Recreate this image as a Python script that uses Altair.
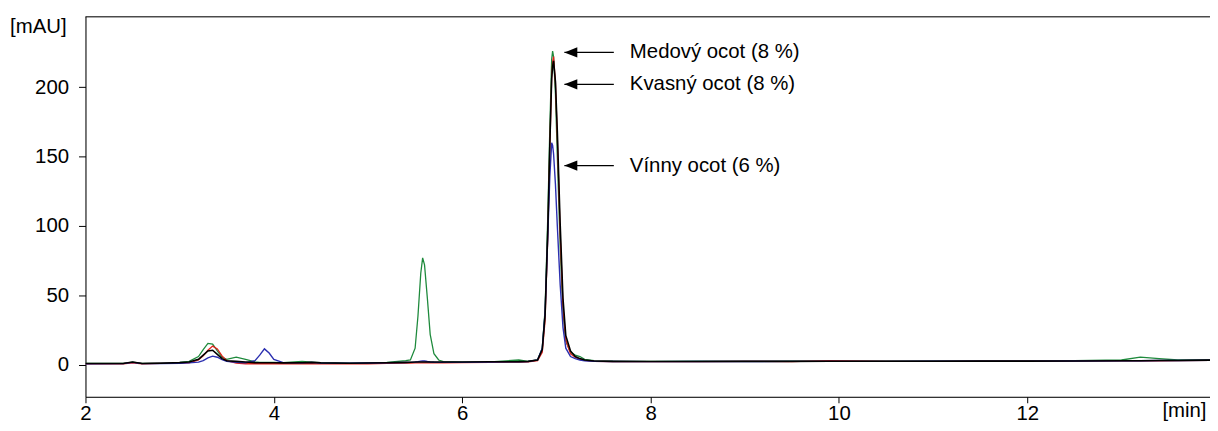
import altair as alt
import pandas as pd

# retention time grid [min]
time = [2.0, 2.4, 2.5, 2.6, 2.8, 3.0, 3.1, 3.2, 3.25, 3.3, 3.35, 3.4, 3.45, 3.5,
        3.6, 3.7, 3.8, 3.85, 3.9, 3.95, 4.0, 4.1, 4.3, 4.4, 4.5, 4.8, 5.0, 5.2,
        5.4, 5.45, 5.5, 5.53, 5.56, 5.58, 5.6, 5.63, 5.66, 5.7, 5.75, 5.8,
        6.0, 6.3, 6.6, 6.7, 6.8, 6.85, 6.88, 6.91, 6.93, 6.95, 6.96, 6.97, 6.99,
        7.01, 7.04, 7.07, 7.1, 7.15, 7.2, 7.25, 7.3, 7.4, 7.6, 8.0, 8.5, 9.0,
        9.5, 9.9, 10.5, 11.0, 11.5, 12.0, 12.5, 13.0, 13.2, 13.4, 13.6, 13.94]

medovy = [1.0, 1.0, 2.0, 1.0, 1.3, 1.8, 2.5, 6.0, 11.0, 15.5, 15.0, 10.0, 5.5, 4.0,
          5.5, 4.0, 2.2, 1.8, 1.8, 1.8, 1.8, 1.6, 2.5, 2.0, 1.6, 1.3, 1.4, 1.7,
          3.0, 3.5, 12.0, 35.0, 66.0, 77.0, 72.0, 48.0, 22.0, 8.0, 3.5, 2.4,
          2.0, 2.2, 3.5, 2.5, 3.5, 12.0, 40.0, 110.0, 170.0, 220.0, 226.0, 222.0, 195.0,
          150.0, 85.0, 38.0, 17.0, 9.0, 7.0, 6.0, 4.0, 3.0, 2.6, 2.5, 2.6, 2.5,
          2.6, 2.7, 2.7, 2.8, 2.8, 2.9, 3.0, 3.5, 5.5, 4.5, 3.5, 3.8]

kvasny = [0.8, 0.8, 1.5, 0.8, 1.0, 1.2, 1.5, 3.5, 6.5, 10.5, 13.5, 11.5, 6.5, 3.0,
          1.2, 0.8, 0.8, 0.8, 0.8, 0.8, 0.8, 0.8, 0.8, 0.8, 0.7, 0.7, 0.8, 1.0,
          1.3, 1.3, 1.4, 1.4, 1.4, 1.4, 1.4, 1.4, 1.4, 1.4, 1.5, 1.5,
          1.6, 1.8, 2.0, 2.2, 3.0, 9.0, 32.0, 95.0, 155.0, 207.0, 218.0, 222.0, 203.0,
          163.0, 95.0, 42.0, 18.0, 8.0, 5.5, 4.0, 3.2, 2.6, 2.4, 2.3, 2.3, 2.5,
          2.4, 3.0, 2.5, 2.5, 2.6, 2.6, 2.7, 2.8, 2.9, 2.9, 3.0, 3.2]

vinny = [0.8, 0.9, 1.8, 0.9, 1.0, 1.2, 1.4, 2.0, 3.0, 5.0, 6.3, 5.5, 3.8, 2.5,
         1.8, 1.5, 3.0, 7.0, 11.5, 8.5, 4.0, 1.6, 1.4, 1.8, 1.3, 1.2, 1.3, 1.5,
         1.7, 1.8, 2.0, 2.3, 2.7, 2.9, 2.8, 2.4, 2.1, 1.9, 1.8, 1.8,
         1.8, 2.0, 2.2, 2.4, 3.5, 12.0, 38.0, 95.0, 135.0, 160.0, 158.0, 152.0, 130.0,
         100.0, 58.0, 27.0, 12.0, 6.0, 4.5, 3.5, 3.0, 2.6, 2.4, 2.3, 2.4, 2.4,
         2.5, 2.5, 2.5, 2.6, 2.6, 2.7, 2.8, 2.9, 3.0, 3.1, 3.1, 3.3]

cerny = [1.0, 1.0, 2.0, 1.0, 1.2, 1.6, 2.0, 4.0, 7.0, 10.0, 10.5, 7.5, 4.5, 3.0,
         2.5, 2.0, 1.6, 1.5, 1.5, 1.5, 1.5, 1.4, 1.5, 1.8, 1.4, 1.2, 1.3, 1.5,
         1.8, 1.9, 2.0, 2.0, 2.1, 2.1, 2.1, 2.0, 2.0, 2.0, 2.0, 2.0,
         2.0, 2.2, 2.3, 2.5, 3.5, 11.0, 36.0, 100.0, 158.0, 206.0, 215.0, 219.0, 204.0,
         168.0, 102.0, 48.0, 21.0, 10.0, 6.0, 4.5, 3.5, 2.8, 2.5, 2.4, 2.4, 2.5,
         2.5, 2.6, 2.6, 2.6, 2.7, 2.7, 2.8, 2.9, 3.0, 3.1, 3.1, 3.4]

series_names = ["Medový", "Kvasný", "Vínny", "Čierny"]
series_values = [medovy, kvasny, vinny, cerny]
series_colors = ["#1e8a3c", "#e0231c", "#2b2fb0", "#000000"]
series_widths = [1.3, 1.3, 1.4, 1.6]

# annotations (data coordinates)
ann_text = ["Medový ocot (8 %)", "Kvasný ocot (8 %)", "Vínny ocot (6 %)"]
ann_y = [225, 202, 143.5]
arrow_tip = 7.085
arrow_tail = 7.61
text_x = 7.78

x_ticks = [2, 4, 6, 8, 10, 12]
y_ticks = [0, 50, 100, 150, 200]

FONT = "Liberation Sans"
FS = 20.5
W, H = 1132, 383
XDOM = [2, 13.94]
YDOM = [-23, 251]

rows = []
for name, vals in zip(series_names, series_values):
    for t, v in zip(time, vals):
        rows.append({"t": t, "v": v, "s": name})
df = pd.DataFrame(rows)

xs = alt.Scale(domain=XDOM, nice=False, zero=False)
ys = alt.Scale(domain=YDOM, nice=False, zero=False)

x_axis = alt.Axis(values=x_ticks, title="[min]", grid=False, domainColor="black",
                  tickColor="black", tickSize=6, labelFont=FONT, labelFontSize=FS,
                  labelColor="black", labelPadding=1, titleFont=FONT, titleFontSize=FS,
                  titleFontWeight="normal", titleColor="black", titleX=1128, titleY=14,
                  titleAlign="right", titleBaseline="middle", labelFlush=False)
y_axis = alt.Axis(values=y_ticks, title="[mAU]", grid=False, domainColor="black",
                  tickColor="black", tickSize=7, labelFont=FONT, labelFontSize=FS,
                  labelColor="black", labelPadding=10, titleFont=FONT, titleFontSize=FS,
                  titleFontWeight="normal", titleColor="black", titleAngle=0,
                  titleX=-48, titleY=10, titleAlign="center", titleBaseline="middle")


def X(field):
    return alt.X(field, type="quantitative", scale=xs, axis=x_axis)


def Y(field):
    return alt.Y(field, type="quantitative", scale=ys, axis=y_axis)


layers = []
for name, col, sw in zip(series_names, series_colors, series_widths):
    sub = df[df.s == name]
    layers.append(alt.Chart(sub).mark_line(color=col, strokeWidth=sw, clip=True)
                  .encode(x=X("t"), y=Y("v")))

top_border = alt.Chart(pd.DataFrame({"a": [0]})).mark_rule(color="black", strokeWidth=1).encode(
    x=alt.value(0), x2=alt.value(W), y=alt.value(0.5))

ann = pd.DataFrame({"label": ann_text, "y": ann_y,
                    "tip": [arrow_tip] * 3, "tail": [arrow_tail] * 3, "tx": [text_x] * 3})
arrow_lines = alt.Chart(ann).mark_rule(color="black", strokeWidth=1.4).encode(
    x=X("tip"), x2="tail:Q", y=Y("y"))
arrow_heads = alt.Chart(ann).mark_point(
    shape="M0,0 L2,-0.8 L2,0.8 Z", filled=True, color="black", opacity=1, size=169).encode(
    x=X("tip"), y=Y("y"))
labels = alt.Chart(ann).mark_text(align="left", baseline="middle", font=FONT, fontSize=FS,
                                  color="black").encode(
    x=X("tx"), y=Y("y"), text="label:N")

chart = alt.layer(*layers, top_border, arrow_lines, arrow_heads, labels).properties(
    width=W, height=H,
    autosize=alt.AutoSizeParams(type="none"),
    padding={"left": 78, "top": 7, "right": 0, "bottom": 25},
).configure_view(stroke="transparent").configure(background="white")

chart.save("out.html", embed_options={"renderer": "svg", "actions": False})
